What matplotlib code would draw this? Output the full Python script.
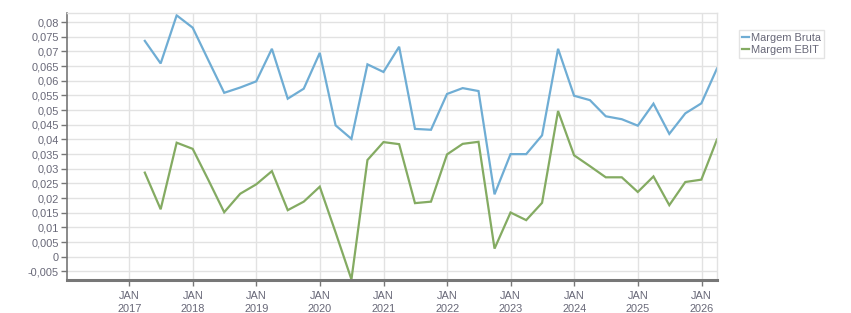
import matplotlib
matplotlib.use("Agg")
import matplotlib.pyplot as plt
import matplotlib.ticker as mticker
import pandas as pd
import numpy as np

quarters = pd.date_range("2017-03-31", periods=37, freq="QE")

margem_bruta = [
    0.0736, 0.0659, 0.0823, 0.0781,
    0.0670, 0.0559, 0.0577, 0.0598,
    0.0709, 0.0539, 0.0573, 0.0695,
    0.0448, 0.0402, 0.0656, 0.0630,
    0.0716, 0.0436, 0.0433, 0.0555,
    0.0575, 0.0565, 0.0213, 0.0350,
    0.0350, 0.0414, 0.0709, 0.0549,
    0.0534, 0.0479, 0.0469, 0.0447,
    0.0522, 0.0419, 0.0489, 0.0523,
    0.0642,
]
margem_ebit = [
    0.0287, 0.0162, 0.0389, 0.0368,
    0.0262, 0.0152, 0.0215, 0.0247,
    0.0292, 0.0159, 0.0188, 0.0239,
    0.0083, -0.0077, 0.0330, 0.0391,
    0.0384, 0.0183, 0.0188, 0.0349,
    0.0385, 0.0392, 0.0028, 0.0151,
    0.0125, 0.0184, 0.0497, 0.0346,
    0.0309, 0.0271, 0.0271, 0.0221,
    0.0274, 0.0176, 0.0255, 0.0263,
    0.0400,
]
series_names = ["Margem Bruta", "Margem EBIT"]
series_colors = ["#6fadd4", "#84ab62"]
xtick_years = list(range(2017, 2027))

plt.rcParams["font.family"] = ["Liberation Sans", "DejaVu Sans"]
FS = 7.9
fig = plt.figure(figsize=(8.51, 3.13), dpi=100)
ax = fig.add_axes([67 / 851, 1 - 280 / 313, (717 - 67) / 851, (280 - 13) / 313])

for vals, name, col in zip([margem_bruta, margem_ebit], series_names, series_colors):
    ax.plot(quarters, vals, color=col, lw=1.6, label=name, solid_joinstyle="miter")

ax.set_xlim(pd.Timestamp("2016-01-09"), pd.Timestamp("2026-03-31"))
ax.set_ylim(-0.0079, 0.0831)

yt = np.arange(-0.005, 0.0801, 0.005)
ax.set_yticks(yt)
def yfmt(v, pos):
    s = ("%.3f" % v).rstrip("0").rstrip(".")
    if s in ("-0", "0"):
        s = "0"
    return s.replace(".", ",")
ax.yaxis.set_major_formatter(mticker.FuncFormatter(yfmt))

xt = [pd.Timestamp(f"{y}-01-01") for y in xtick_years]
ax.set_xticks(xt)
ax.set_xticklabels([f"JAN\n{y}" for y in xtick_years], linespacing=1.4)

ax.grid(True, color="#e2e2e2", lw=1)
ax.set_axisbelow(True)
for s in ["top", "right"]:
    ax.spines[s].set_color("#e2e2e2")
    ax.spines[s].set_linewidth(1)
ax.spines["left"].set_color("#777777")
ax.spines["left"].set_linewidth(1.2)
ax.spines["bottom"].set_color("#777777")
ax.spines["bottom"].set_linewidth(2.2)
ax.tick_params(axis="both", colors="#777777", labelcolor="#686878", labelsize=FS,
               length=4, width=1)
ax.tick_params(axis="x", pad=4)
ax.tick_params(axis="y", pad=2)

leg = ax.legend(loc="upper left", bbox_to_anchor=(739 / 851, 1 - 30 / 313),
                bbox_transform=fig.transFigure, fontsize=FS, frameon=True,
                fancybox=False, handlelength=0.6, handletextpad=0.2,
                borderpad=0.3, labelspacing=0.15, borderaxespad=0)
leg.get_frame().set_edgecolor("#dddddd")
leg.get_frame().set_linewidth(1)
for t in leg.get_texts():
    t.set_color("#686878")

fig.savefig("out.png", dpi=100)
